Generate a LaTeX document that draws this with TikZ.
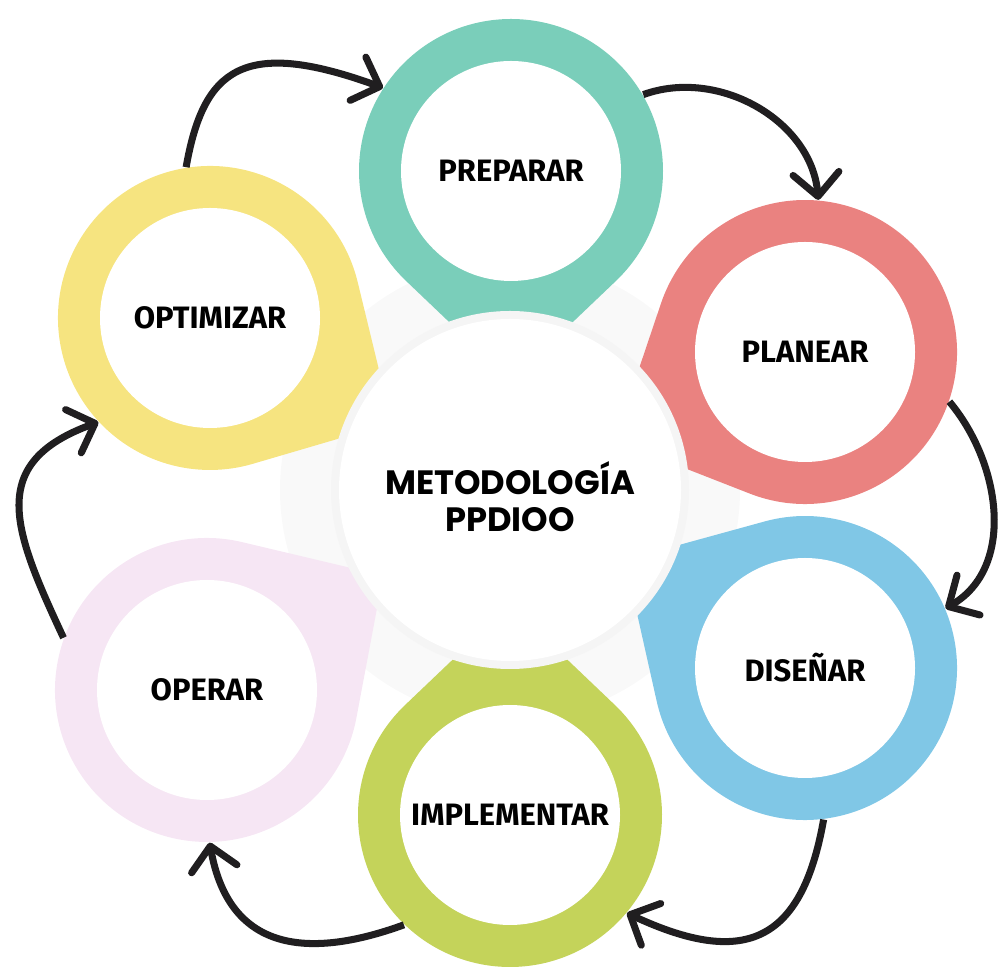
\documentclass[tikz,border=0pt]{standalone}
\usepackage{fontspec}
\setmainfont{Fira Sans}
\newfontfamily\bubblefont{Poppins}
\usetikzlibrary{arrows.meta,calc}

\definecolor{prepcol}{RGB}{122,206,186}
\definecolor{plancol}{RGB}{234,130,128}
\definecolor{discol}{RGB}{128,199,230}
\definecolor{implcol}{RGB}{196,211,90}
\definecolor{opercol}{RGB}{246,230,244}
\definecolor{optcol}{RGB}{246,228,128}
\definecolor{ink}{RGB}{32,30,32}

\tikzset{
	ringname/.style={circle, minimum size=3.04cm, inner sep=0pt, font=\fontsize{8.8}{10}\selectfont\bfseries},
	flow/.style={line width=2pt, draw=ink, -{Straight Barb[length=2.3mm,width=4.6mm,round]}},
}

\begin{document}
\begin{tikzpicture}
	\useasboundingbox (0,0) rectangle (9.99,9.73);
	\fill[gray!5] (5.10,4.83) circle (2.3);
	% gotas
	\foreach \x/\y/\a/\col in {5.11/8.02/270/prepcol, 8.05/6.21/205/plancol, 8.05/3.05/149/discol, 5.10/1.58/90/implcol, 2.07/2.83/33/opercol, 2.10/6.55/330/optcol}{
		\fill[\col] ($(\x,\y)+(\a:2.1)$) -- ($(\x,\y)+(\a+43.6:1.52)$) arc[start angle=\a+43.6, end angle=\a+316.4, radius=1.52] -- cycle;
		\fill[white] (\x,\y) circle (1.1);
	}
	\fill[gray!8] (5.10,4.83) circle (1.79);
	\node[circle, fill=white, minimum size=3.42cm] (core) at (5.10,4.83) {};
	\node[align=center, font=\bubblefont\bfseries\fontsize{9.6}{10.5}\selectfont] (title) at (5.10,4.76) {METODOLOGÍA\\PPDIOO};
	\node[ringname] (prep) at (5.11,8.02) {PREPARAR};
	\node[ringname] (plan) at (8.05,6.21) {PLANEAR};
	\node[ringname] (dis) at (8.05,3.05) {DISEÑAR};
	\node[ringname] (impl) at (5.10,1.58) {IMPLEMENTAR};
	\node[ringname] (oper) at (2.07,2.83) {OPERAR};
	\node[ringname] (opt) at (2.10,6.55) {OPTIMIZAR};
	% ciclo
	\draw[flow] (opt.99) to[out=80,in=160,out looseness=1.2,in looseness=1.8] (prep.147);
	\draw[flow] (prep.30) to[out=20,in=95] (plan.85);
	\draw[flow] (plan.-19) to[out=-50,in=30] (dis.23);
	\draw[flow] (dis.-83) to[out=-100,in=-25,looseness=1.5] (impl.-40);
	\draw[flow] (impl.-134) to[out=200,in=-80,looseness=1.3] (oper.-89);
	\draw[flow] (oper.160) to[out=115,in=200,looseness=1.4] (opt.-137);
\end{tikzpicture}
\end{document}
